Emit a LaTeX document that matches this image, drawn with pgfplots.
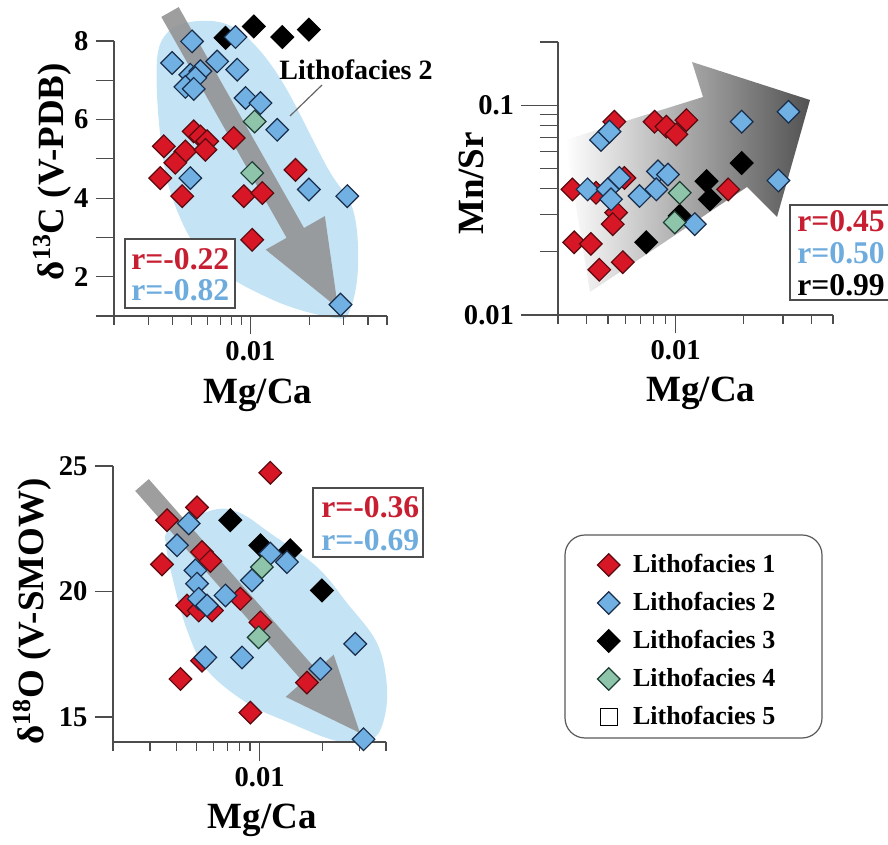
\documentclass[border=0pt]{standalone}
\usepackage{pgfplots}
\pgfplotsset{compat=1.18}
\usepackage{fontspec}
\setmainfont{Liberation Serif}
\definecolor{lfA}{RGB}{215,22,38}
\definecolor{lfAd}{RGB}{90,10,15}
\definecolor{lfB}{RGB}{112,176,226}
\definecolor{lfBd}{RGB}{25,45,75}
\definecolor{lfD}{RGB}{142,196,170}
\definecolor{lfDd}{RGB}{30,60,50}
\definecolor{blob}{RGB}{196,228,246}
\definecolor{rred}{RGB}{200,30,50}
\definecolor{rblue}{RGB}{110,172,222}
\newcommand{\tickfont}{\fontsize{14.3}{16}\selectfont\bfseries}
\newcommand{\labfont}{\fontsize{18.5}{20}\selectfont\bfseries}
\newcommand{\rfont}{\fontsize{15.8}{17}\selectfont\bfseries}
\tikzset{
  lf1/.style={mark=square*, mark size=4pt, mark options={rotate=45, fill=lfA, draw=lfAd, line width=0.6pt}},
  lf2/.style={mark=square*, mark size=4pt, mark options={rotate=45, fill=lfB, draw=lfBd, line width=0.6pt}},
  lf3/.style={mark=square*, mark size=4pt, mark options={rotate=45, fill=black, draw=black, line width=0.6pt}},
  lf4/.style={mark=square*, mark size=4pt, mark options={rotate=45, fill=lfD, draw=lfDd, line width=0.6pt}},
  lf5/.style={mark=square*, mark size=4.3pt, mark options={fill=white, draw=black, line width=0.6pt}},
}
\begin{document}
\begin{tikzpicture}
\useasboundingbox (0pt,0pt) rectangle (444pt,422.5pt);
% ---------- background decorations (pixel coordinates) ----------
\begin{scope}[x=0.5pt,y=-0.5pt,shift={(0pt,422.5pt)}]
  \fill[blob] plot[smooth cycle, tension=0.6] coordinates {(190,22) (223,23) (250,40) (283,83) (327,167) (353,210) (358,267) (350,310) (335,318) (273,300) (207,260) (173,200) (160,133) (157,60) (168,32)};
  \fill[black!42, opacity=0.9] (161.3,16.9) -- (178.7,7.1) -- (304,228) -- (324.9,216.1) -- (338,308) -- (265.7,249.7) -- (286.6,237.8) -- cycle;
  \fill[blob] plot[smooth cycle, tension=0.6] coordinates {(170,530) (213,510) (240,513) (270,533) (317,567) (347,603) (377,643) (387,687) (383,723) (370,740) (337,741) (290,723) (247,703) (207,670) (187,630) (173,580) (166,545)};
  \fill[black!42, opacity=0.9] (135.2,490.9) -- (148.8,479.1) -- (316.5,669.9) -- (333.7,654.7) -- (360,733) -- (285.7,696.9) -- (302.9,681.7) -- cycle;
  \shade[left color=white, middle color=black!45, right color=black!68] (565,140) -- (703,97) -- (692,62) -- (810,100) -- (777,217) -- (747,187) -- (590,292) -- cycle;
  % legend frame
  \draw[black!65, line width=0.6pt, rounded corners=10pt, fill=white] (565,535) rectangle (822,738);
\end{scope}

% ---------- top-left: d13C vs Mg/Ca ----------
\begin{axis}[scale only axis, xmode=log, clip=false,
  axis lines*=left, axis line style={-, black!70, line width=0.6pt},
  tick align=outside, tick style={black!70, line width=0.6pt},
  major tick length=9.25pt, minor tick length=4.5pt,
  tick label style={font=\tickfont}, label style={font=\labfont},
  at={(57pt,264.5pt)}, anchor=south west,
  width=136.5pt, height=137.5pt,
  xmin=0.002, xmax=0.05, ymin=1, ymax=8,
  xtick={0.01}, xticklabels={0.01},
  minor xtick={0.002,0.003,0.004,0.005,0.006,0.007,0.008,0.009,0.02,0.03,0.04,0.05},
  ytick={1,2,3,4,5,6,7,8}, yticklabels={,2,,4,,6,,8},
  xlabel={Mg/Ca}, ylabel={δ\textsuperscript{13}C (V-PDB)},
  xlabel style={at={(axis description cs:0.527,-0.287)}, anchor=center},
  ylabel style={at={(axis description cs:-0.225,0.525)}, anchor=center},
]
\addplot[only marks, lf3] table {
0.00745 8.08
0.0104 8.37
0.01455 8.10
0.0199 8.29
};
\addplot[only marks, lf1] table {
0.0036 5.32
0.00512 5.70
0.00554 5.57
0.0060 5.45
0.00464 5.19
0.00412 4.90
0.00588 5.23
0.00345 4.51
0.00447 4.05
0.0082 5.53
0.0170 4.72
0.00924 4.05
0.0115 4.13
0.0102 2.94
};
\addplot[only marks, lf2] table {
0.00502 7.99
0.00838 8.10
0.00397 7.44
0.00675 7.48
0.00855 7.27
0.00492 7.14
0.00554 7.23
0.00522 7.06
0.00464 6.83
0.00512 6.78
0.00943 6.55
0.01125 6.42
0.0137 5.74
0.00492 4.51
0.0199 4.22
0.0313 4.05
0.0289 1.29
};
\addplot[only marks, lf4] table {
0.0105 5.95
0.0102 4.64
};
\end{axis}

% ---------- top-right: Mn/Sr vs Mg/Ca ----------
\begin{axis}[scale only axis, xmode=log, ymode=log, clip=false,
  axis lines*=left, axis line style={-, black!70, line width=0.6pt},
  tick align=outside, tick style={black!70, line width=0.6pt},
  major tick length=9.25pt, minor tick length=4.5pt,
  tick label style={font=\tickfont}, label style={font=\labfont},
  at={(279pt,265pt)}, anchor=south west,
  width=137.5pt, height=136.5pt,
  xmin=0.003, xmax=0.05, ymin=0.01, ymax=0.2,
  xtick={0.01}, xticklabels={0.01},
  minor xtick={0.003,0.004,0.005,0.006,0.007,0.008,0.009,0.02,0.03,0.04,0.05},
  ytick={0.02,0.03,0.04,0.05,0.06,0.07,0.08,0.09,0.2}, yticklabels={}, minor ytick={},
  extra y ticks={0.01,0.1}, extra y tick labels={0.01,0.1},
  extra y tick style={major tick length=18.5pt},
  xlabel={Mg/Ca}, ylabel={Mn/Sr},
  xlabel style={at={(axis description cs:0.52,-0.287)}, anchor=center},
  ylabel style={at={(axis description cs:-0.315,0.482)}, anchor=center},
]
\addplot[only marks, lf3] table {
0.0074 0.0222
0.01371 0.04342
0.01419 0.03557
0.01965 0.05298
0.01042 0.02968
};
\addplot[only marks, lf1] table {
0.003478 0.03968
0.004426 0.03823
0.00534 0.0834
0.00544 0.03076
0.00525 0.02710
0.00354 0.02220
0.0042 0.02182
0.004578 0.01643
0.00582 0.01786
0.00806 0.0834
0.00909 0.0790
0.01007 0.0726
0.01116 0.0849
0.01712 0.03968
0.00592 0.0450
};
\addplot[only marks, lf2] table {
0.00466 0.0683
0.00508 0.0748
0.00406 0.0397
0.00562 0.0450
0.00499 0.0397
0.00516 0.0356
0.00691 0.0369
0.00834 0.0484
0.00924 0.0467
0.0082 0.0397
0.01216 0.0271
0.01965 0.0834
0.03172 0.0930
0.02862 0.04375
};
\addplot[only marks, lf4] table {
0.01042 0.0382
0.0099 0.0276
};
\end{axis}

% ---------- bottom-left: d18O vs Mg/Ca ----------
\begin{axis}[scale only axis, xmode=log, clip=false,
  axis lines*=left, axis line style={-, black!70, line width=0.6pt},
  tick align=outside, tick style={black!70, line width=0.6pt},
  major tick length=9.25pt, minor tick length=4.5pt,
  tick label style={font=\tickfont}, label style={font=\labfont},
  at={(56.5pt,51.5pt)}, anchor=south west,
  width=136.5pt, height=138pt,
  xmin=0.002, xmax=0.04, ymin=14, ymax=25,
  xtick={0.01}, xticklabels={0.01},
  minor xtick={0.002,0.003,0.004,0.005,0.006,0.007,0.008,0.009,0.02,0.03,0.04},
  ytick={15,20,25}, yticklabels={15,20,25},
  xlabel={Mg/Ca}, ylabel={δ\textsuperscript{18}O (V-SMOW)},
  xlabel style={at={(axis description cs:0.546,-0.283)}, anchor=center},
  ylabel style={at={(axis description cs:-0.295,0.473)}, anchor=center},
  legend style={at={(1.773,0.366)}, anchor=west, draw=none, fill=none,
    font=\fontsize{13}{15}\selectfont\bfseries,
    inner xsep=0pt, inner ysep=0pt, row sep=4.35pt,
    nodes={inner xsep=6.5pt}},
  legend cell align=left,
]
\addlegendimage{only marks, lf1}\addlegendentry{Lithofacies 1}
\addlegendimage{only marks, lf2}\addlegendentry{Lithofacies 2}
\addlegendimage{only marks, lf3}\addlegendentry{Lithofacies 3}
\addlegendimage{only marks, lf4}\addlegendentry{Lithofacies 4}
\addlegendimage{only marks, lf5}\addlegendentry{Lithofacies 5}
\addplot[only marks, lf3, forget plot] table {
0.00725 22.84
0.01008 21.84
0.014 21.64
0.0198 20.04
};
\addplot[only marks, lf1, forget plot] table {
0.003619 22.84
0.005028 23.35
0.003424 21.08
0.005312 21.57
0.00582 21.21
0.004506 19.44
0.005124 19.24
0.00593 19.24
0.00809 19.71
0.01008 18.77
0.004192 16.51
0.00903 15.17
0.0168 16.37
0.01124 24.73
0.00531 17.24
};
\addplot[only marks, lf2, forget plot] table {
0.004591 22.71
0.004039 21.84
0.004941 20.84
0.005028 20.31
0.005124 19.71
0.00561 19.44
0.00687 19.84
0.00919 20.44
0.01124 21.51
0.01349 21.17
0.00551 17.37
0.00824 17.37
0.01946 16.91
0.02855 17.91
0.03127 14.11
};
\addplot[only marks, lf4, forget plot] table {
0.01025 20.97
0.00989 18.17
};
\end{axis}

% ---------- annotations (pixel coordinates) ----------
\begin{scope}[x=0.5pt,y=-0.5pt,shift={(0pt,422.5pt)}]
  \draw[black!70, line width=0.6pt, fill=white] (125,239) rectangle (235,308);
  \node[anchor=west, text=rred, font=\rfont, inner sep=0pt] at (131,259) {r=-0.22};
  \node[anchor=west, text=rblue, font=\rfont, inner sep=0pt] at (131,290) {r=-0.82};
  \node[anchor=west, font=\fontsize{14}{16}\selectfont\bfseries, inner sep=0pt] at (279,70) {Lithofacies 2};
  \draw[black!60, line width=0.6pt] (322,85) -- (290,116);
  \draw[black!70, line width=0.6pt, fill=white] (790,205) rectangle (900,300);
  \node[anchor=west, text=rred, font=\rfont, inner sep=0pt] at (797,221) {r=0.45};
  \node[anchor=west, text=rblue, font=\rfont, inner sep=0pt] at (797,253) {r=0.50};
  \node[anchor=west, text=black, font=\rfont, inner sep=0pt] at (797,285) {r=0.99};
  \draw[black!70, line width=0.6pt, fill=white] (313,488) rectangle (423,557);
  \node[anchor=west, text=rred, font=\rfont, inner sep=0pt] at (321,507) {r=-0.36};
  \node[anchor=west, text=rblue, font=\rfont, inner sep=0pt] at (321,540) {r=-0.69};
\end{scope}
\end{tikzpicture}
\end{document}
